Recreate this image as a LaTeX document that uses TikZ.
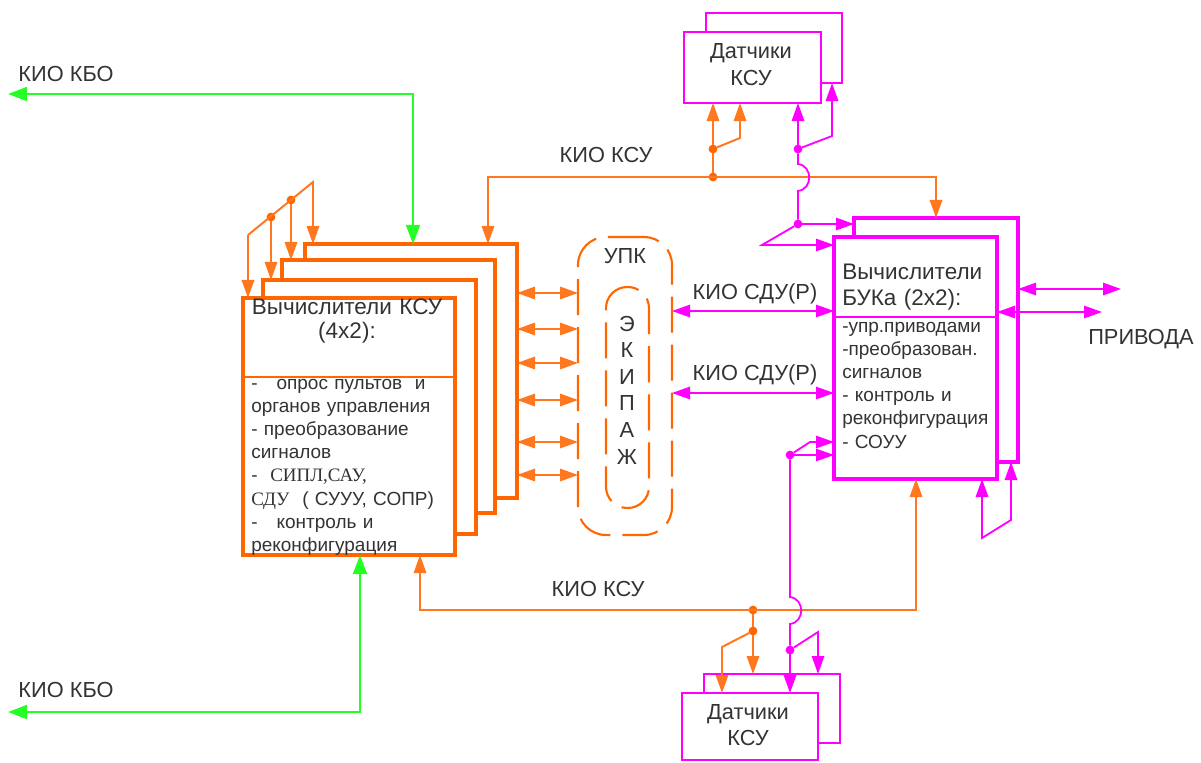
\documentclass[tikz,border=0pt]{standalone}
\usepackage{fontspec}
\setmainfont{Liberation Sans}
\newfontfamily\serifru{Liberation Serif}
\usetikzlibrary{arrows.meta}
\newcommand{\pxu}{0.025cm}
\definecolor{ksuOrange}{rgb}{1.00,0.40,0.00}
\definecolor{ksuLine}{rgb}{1.00,0.47,0.12}
\definecolor{bukMagenta}{rgb}{1.00,0.00,1.00}
\definecolor{kboGreen}{rgb}{0.15,1.00,0.15}
\definecolor{inkGray}{rgb}{0.20,0.20,0.20}
\begin{document}
\begin{tikzpicture}[x=\pxu, y=-\pxu, every node/.style={text=inkGray}, ksubox/.style 2 args={draw=ksuOrange, line width=2.5pt, fill=white, anchor=north west, inner sep=0pt, outer sep=0pt, minimum width=#1*\pxu, minimum height=#2*\pxu}, bukbox/.style 2 args={draw=bukMagenta, line width=2.6pt, fill=white, anchor=north west, inner sep=0pt, outer sep=0pt, minimum width=#1*\pxu, minimum height=#2*\pxu}, senbox/.style 2 args={draw=bukMagenta, line width=1.3pt, fill=white, anchor=north west, inner sep=0pt, outer sep=0pt, minimum width=#1*\pxu, minimum height=#2*\pxu}, oline/.style={line width=1.4pt, ksuLine}, mline/.style={line width=1.3pt, bukMagenta}, gline/.style={line width=1.6pt, kboGreen}, tip/.style={-{Triangle[length=0.45cm, width=0.31cm]}}, twotip/.style={{Triangle[length=0.45cm, width=0.31cm]}-{Triangle[length=0.45cm, width=0.31cm]}}, gtips/.style={{Triangle[length=0.48cm, width=0.35cm]}-{Triangle[length=0.48cm, width=0.35cm]}}, dot/.style={circle, inner sep=0pt, outer sep=0pt, minimum size=0.22cm}, crew/.style={draw=ksuOrange, line width=1.5pt, dash pattern=on 0.9cm off 0.3cm, anchor=north west, inner sep=0pt, outer sep=0pt}, lbl/.style={font=\fontsize{15.5}{19}\selectfont, inner sep=0pt, anchor=base}, headc/.style={font=\fontsize{16}{17.7}\selectfont, inner sep=0pt, text width=5cm, align=center, anchor=base}, headl/.style={font=\fontsize{16}{19}\selectfont, inner sep=0pt, text width=4cm, align=left, anchor=base west}, sentext/.style={font=\fontsize{15.5}{19}\selectfont, inner sep=0pt, text width=3cm, align=center, anchor=base}, body/.style={font=\fontsize{13.5}{16.5}\selectfont, inner sep=0pt, text width=5.5cm, align=left, anchor=base west}]
\useasboundingbox (0,0) rectangle (1201,762);
% KSU computers, back to front
\node[ksubox={212}{254}] (ksu4) at (305,244) {};
\node[ksubox={213}{253}] (ksu3) at (282,260) {};
\node[ksubox={213}{254}] (ksu2) at (263,280) {};
\node[ksubox={212}{257}] (ksu1) at (243,298) {};
\draw[ksuOrange, line width=0.8pt] (ksu1.west |- 0,377) -- (ksu1.east |- 0,377);
% BUK computers
\node[bukbox={164}{244}] (buk2) at (854,218) {};
\node[bukbox={163}{242}] (buk1) at (834,237) {};
\draw[bukMagenta, line width=0.8pt] (buk1.west |- 0,317) -- (buk1.east |- 0,317);
% sensors
\node[senbox={136}{70}] (senTop2) at (706,13) {};
\node[senbox={137}{71}] (senTop1) at (684,32) {};
\node[senbox={136}{69}] (senBot2) at (704,674) {};
\node[senbox={136}{67}] (senBot1) at (682,693) {};
% UPK and crew
\node[crew, rounded corners=0.7cm, minimum width=94*\pxu, minimum height=298*\pxu] (upk) at (578,237) {};
\node[crew, rounded corners=0.53cm, minimum width=43*\pxu, minimum height=221*\pxu] (ekip) at (606,287) {};

% junctions
\node[dot, fill=ksuOrange] (jT1) at (713,177) {};
\node[dot, fill=ksuOrange] (jT2) at (713,149) {};
\node[dot, fill=ksuOrange] (jB1) at (753,610) {};
\node[dot, fill=ksuOrange] (jB2) at (753,631) {};
\node[dot, fill=ksuOrange] (fk2) at (271,217) {};
\node[dot, fill=ksuOrange] (fk3) at (291,200) {};
\node[dot, fill=bukMagenta] (mT1) at (798,149) {};
\node[dot, fill=bukMagenta] (mT2) at (798,224) {};
\node[dot, fill=bukMagenta] (mB1) at (790,455) {};
\node[dot, fill=bukMagenta] (mB2) at (790,650) {};
\coordinate (fk1) at (248,235);
\coordinate (fk4) at (313,182);
\coordinate (busTopL) at (488,177);
\coordinate (busTopR) at (936,177);
\coordinate (busBotL) at (420,610);
\coordinate (busBotR) at (916,610);
\coordinate (oTopKnee) at (740,138);
\coordinate (oBotKnee) at (722,647);
\coordinate (mTopKnee) at (832,136);
\coordinate (mZig) at (762,245);
\coordinate (mBotKnee) at (810,442);
\coordinate (mBotKnee2) at (818,632);
\coordinate (hopT) at (798,164);
\coordinate (hopB) at (790,597);
\coordinate (kboTop) at (8,94);
\coordinate (kboTopBend) at (413,94);
\coordinate (kboBot) at (8,712);
\coordinate (kboBotBend) at (360,712);
\coordinate (fbA) at (982,538);
\coordinate (fbB) at (1011,520);
\coordinate (drvA) at (1121,289);
\coordinate (drvB) at (1102,312);
\coordinate (sduA) at (upk.east |- 0,311);
\coordinate (sduB) at (upk.east |- 0,393);

% KBO links
\draw[gline, gtips] (kboTop) -- (kboTopBend) -- (kboTopBend |- ksu4.north);
\draw[gline, gtips] (kboBot) -- (kboBotBend) -- (kboBotBend |- ksu1.south);
% KSU buses
\draw[oline, twotip] (busTopL |- ksu4.north) -- (busTopL) -- (busTopR) -- (busTopR |- buk2.north);
\draw[oline] (jT1) -- (jT2);
\draw[oline, tip] (jT2) -- (jT2 |- senTop1.south);
\draw[oline, tip] (jT2) -- (oTopKnee) -- (oTopKnee |- senTop1.south);
\draw[oline, twotip] (busBotL |- ksu1.south) -- (busBotL) -- (busBotR) -- (busBotR |- buk1.south);
\draw[oline] (jB1) -- (jB2);
\draw[oline, tip] (jB2) -- (jB2 |- senBot2.north);
\draw[oline, tip] (jB2) -- (oBotKnee) -- (oBotKnee |- senBot1.north);
% fork on the stack
\draw[oline, tip] (fk1) -- (fk4) -- (fk4 |- ksu4.north);
\draw[oline, tip] (fk1) -- (fk1 |- ksu1.north);
\draw[oline, tip] (fk2) -- (fk2 |- ksu2.north);
\draw[oline, tip] (fk3) -- (fk3 |- ksu3.north);
\foreach \y in {293,329,363,400,442,475}
  \draw[oline, twotip] (ksu4.east |- 0,\y) -- (upk.west |- 0,\y);
% sensor lines to BUK
\draw[mline, tip] (mT1) -- (mT1 |- senTop1.south);
\draw[mline, tip] (mT1) -- (mTopKnee) -- (mTopKnee |- senTop2.south);
\draw[mline] (mT1) -- (hopT) .. controls +(15,2) and +(15,-2) .. ++(0,27) -- (mT2);
\draw[mline, tip] (mT2) -- (mT2 -| buk2.west);
\draw[mline, tip] (mT2) -- (mZig) -- (mZig -| buk1.west);
\draw[mline, tip] (mB1) -- (mB1 -| buk1.west);
\draw[mline, tip] (mB1) -- (mBotKnee) -- (mBotKnee -| buk1.west);
\draw[mline] (mB1) -- (hopB) .. controls +(15,2) and +(15,-2) .. ++(0,27) -- (mB2);
\draw[mline, tip] (mB2) -- (mB2 |- senBot1.north);
\draw[mline, tip] (mB2) -- (mBotKnee2) -- (mBotKnee2 |- senBot2.north);
% SDU and drives
\draw[mline, twotip] (sduA) -- (sduA -| buk1.west);
\draw[mline, twotip] (sduB) -- (sduB -| buk1.west);
\draw[mline, twotip] (drvA -| buk2.east) -- (drvA);
\draw[mline, twotip] (drvB -| buk1.east) -- (drvB);
\draw[mline, twotip] (fbA |- buk1.south) -- (fbA) -- (fbB) -- (fbB |- buk2.south);

% texts
\node[lbl] (kboTopLbl) at (66,81) {КИО КБО};
\node[lbl] (kboBotLbl) at (66,697) {КИО КБО};
\node[lbl] (ksuTopLbl) at (606,162) {КИО КСУ};
\node[lbl] (ksuBotLbl) at (598,596) {КИО КСУ};
\node[lbl] (sduTopLbl) at (755,299) {КИО СДУ(Р)};
\node[lbl] (sduBotLbl) at (755,380) {КИО СДУ(Р)};
\node[lbl, anchor=base west] (drvLbl) at (1088,344) {ПРИВОДА};
\node[lbl] (upkLbl) at (625,263) {УПК};
\foreach \ch [count=\i] in {Э,К,И,П,А,Ж}
  \node[lbl] (ek\i) at ({627},{331+26.6*(\i-1)}) {\ch};
\node[sentext] (senTopTxt) at (751,59) {Датчики\\КСУ};
\node[sentext] (senBotTxt) at (748,719) {Датчики\\КСУ};
\node[headc] (ksuHead) at (347,314) {Вычислители КСУ\\(4x2):};
\node[body] (ksuBody) at (251,389) {-\ \ \ опрос пультов\ \ и\\органов управления\\- преобразование\\сигналов\\-\ \ {\serifru СИПЛ,САУ,}\\{\serifru СДУ}\ \ ( СУУУ, СОПР)\\-\ \ \ контроль и\\реконфигурация};
\node[headl] (bukHead) at (842,279) {Вычислители\\БУКа (2x2):};
\node[body] (bukBody) at (842,332) {-упр.приводами\\-преобразован.\\сигналов\\- контроль и\\реконфигурация\\- СОУУ};
\end{tikzpicture}
\end{document}
